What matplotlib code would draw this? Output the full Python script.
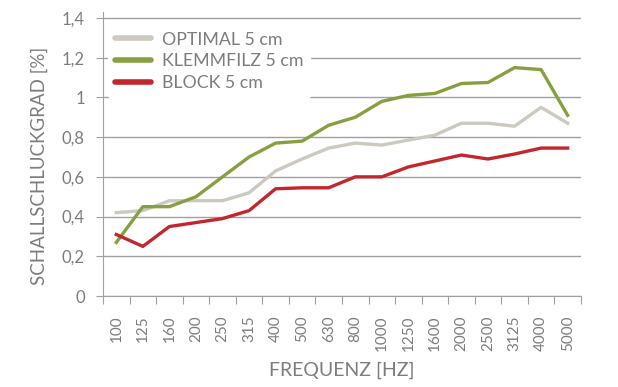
import numpy as np
import matplotlib.pyplot as plt

plt.rcParams['font.family'] = ['Lato', 'DejaVu Sans']

# Frequenzen (Terzbänder)
freq = ["100", "125", "160", "200", "250", "315", "400", "500", "630",
        "800", "1000", "1250", "1600", "2000", "2500", "3125", "4000", "5000"]

# Schallschluckgrad je Produkt
optimal = [0.42, 0.43, 0.48, 0.48, 0.48, 0.52, 0.63, 0.69, 0.745, 0.77,
           0.76, 0.785, 0.81, 0.87, 0.87, 0.855, 0.95, 0.87]
klemmfilz = [0.27, 0.45, 0.45, 0.50, 0.60, 0.70, 0.77, 0.78, 0.86, 0.90,
             0.98, 1.01, 1.02, 1.07, 1.075, 1.15, 1.14, 0.91]
block = [0.31, 0.25, 0.35, 0.37, 0.39, 0.43, 0.54, 0.545, 0.545, 0.60,
         0.60, 0.65, 0.68, 0.71, 0.69, 0.715, 0.745, 0.745]

y_ticks = [0, 0.2, 0.4, 0.6, 0.8, 1.0, 1.2, 1.4]
y_labels = ["0", "0,2", "0,4", "0,6", "0,8", "1", "1,2", "1,4"]

grau = "#7d7d7d"

fig = plt.figure(figsize=(6.18, 3.87), dpi=100)
ax = fig.add_axes([0.1667, 0.235, 0.7733, 0.734])

x = np.arange(len(freq))
ax.plot(x, optimal, color="#cdc9c1", linewidth=2.4, label="OPTIMAL 5 cm")
ax.plot(x, klemmfilz, color="#87a03f", linewidth=2.4, label="KLEMMFILZ 5 cm")
ax.plot(x, block, color="#c1272d", linewidth=2.4, label="BLOCK 5 cm")

ax.set_xlim(-0.5, len(freq) - 0.5)
ax.set_ylim(0, 1.43)

# Gitterlinien
ax.set_yticks(y_ticks)
ax.set_yticklabels(y_labels)
ax.yaxis.grid(True, color="#a0a0a0", linewidth=1)
ax.set_axisbelow(True)

# Ticks zwischen den Kategorien, Beschriftung in der Mitte
ax.set_xticks(np.arange(len(freq) + 1) - 0.5)
ax.set_xticklabels([])
ax.set_xticks(x, minor=True)
ax.set_xticklabels(freq, minor=True, rotation=90)
ax.tick_params(axis="x", which="major", length=6, color="#a0a0a0", direction="out")
ax.tick_params(axis="x", which="minor", length=0, pad=14, labelsize=11, labelcolor=grau)
ax.tick_params(axis="y", length=5, color="#a0a0a0", labelsize=12, labelcolor=grau, pad=8)

for s in ["top", "right"]:
    ax.spines[s].set_visible(False)
for s in ["left", "bottom"]:
    ax.spines[s].set_color("#a0a0a0")

ax.set_xlabel("FREQUENZ [HZ]", color=grau, fontsize=14, fontweight="normal", labelpad=8)
ax.set_ylabel("SCHALLSCHLUCKGRAD [%]", color=grau, fontsize=13.5, fontweight="normal")
ax.yaxis.set_label_coords(-0.115, 0.46)

leg = ax.legend(loc="upper left", bbox_to_anchor=(0.0, 0.975), frameon=True,
                fontsize=12.8, handlelength=2.0, handletextpad=0.6,
                labelspacing=0.32, borderaxespad=0.3)
leg.get_frame().set_facecolor("white")
leg.get_frame().set_edgecolor("white")
leg.get_frame().set_alpha(1)
for line in leg.get_lines():
    line.set_linewidth(4)
    line.set_solid_capstyle("round")
for t in leg.get_texts():
    t.set_color(grau)

fig.savefig("out.png", dpi=100)
